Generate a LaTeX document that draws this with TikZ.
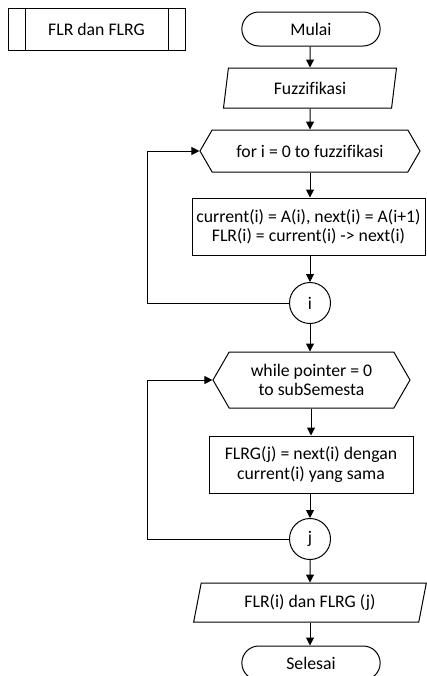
\documentclass[tikz,border=0pt]{standalone}
\usepackage{fontspec}
\setmainfont{Carlito}[Ligatures=CommonOff]
\usetikzlibrary{arrows.meta, shapes.geometric, shapes.misc, shapes.symbols}

\tikzset{
  base/.style={draw, line width=0.75pt, align=center, inner sep=1pt,
    font=\fontsize{13.3}{14.4}\selectfont},
  terminal/.style={base, rounded rectangle, minimum width=105.75pt},
  iobox/.style={base, trapezium, trapezium stretches body,
    trapezium left angle=#1, trapezium right angle=180-#1},
  loopbox/.style={base, signal, signal to=west and east,
    signal pointer angle=120},
  procbox/.style={base, rectangle},
  connector/.style={base, circle, minimum size=30.75pt, inner sep=0pt},
  flow/.style={line width=0.75pt, -{Triangle[length=6pt, width=6pt]}},
  backline/.style={line width=0.75pt}
}

\begin{document}
\begin{tikzpicture}[x=0.75pt, y=-0.75pt]
  % Page frame, in pixels of the reference
  \useasboundingbox (0,0) rectangle (427,676);

  % Predefined process (title)
  \node[procbox, minimum width=132.75pt, minimum height=31.5pt]
    (title) at (96.5,29) {FLR dan FLRG};
  \draw[backline] ([xshift=13.5pt]title.north west) -- ([xshift=13.5pt]title.south west);
  \draw[backline] ([xshift=-12.75pt]title.north east) -- ([xshift=-12.75pt]title.south east);

  % Main column
  \node[terminal, minimum height=25.5pt] (start) at (311,29) {Mulai};
  \node[iobox=72, minimum width=129.75pt, minimum height=30pt]
    (fuzz) at (310,88) {Fuzzifikasi};
  \node[loopbox, minimum width=165pt, minimum height=31.5pt]
    (loopA) at (310,151) {for i = 0 to fuzzifikasi};
  \node[procbox, minimum width=174.75pt, minimum height=42.75pt]
    (procA) at (308.5,226.5) {current(i) = A(i), next(i) = A(i+1)\\FLR(i) = current(i) -> next(i)};
  \node[connector] (ci) at (310,303) {i};
  \node[loopbox, minimum width=147.75pt, minimum height=42pt]
    (loopB) at (311.5,380) {while pointer = 0\\to subSemesta};
  \node[procbox, minimum width=153pt, minimum height=42.75pt]
    (procB) at (311,464.5) {FLRG(j) = next(i) dengan\\current(i) yang sama};
  \node[connector] (cj) at (310,539) {j};
  \node[iobox=68, minimum width=174.5pt, minimum height=29.25pt]
    (output) at (310,602.5) {FLR(i) dan FLRG (j)};
  \node[terminal, minimum height=25.5pt] (stop) at (311,663) {Selesai};

  % Loop return points
  \coordinate (backA) at (147,303);
  \coordinate (backB) at (147,539);

  % Flow arrows
  \draw[flow] (start.south -| fuzz.north) -- (fuzz);
  \draw[flow] (fuzz) -- (loopA);
  \draw[flow] (loopA.south) -- (loopA.south |- procA.north);
  \draw[flow] (procA.south -| ci.north) -- (ci);
  \draw[flow] (ci) -- (loopB.north -| ci.south);
  \draw[flow] (loopB.south -| procB.north) -- (procB.north);
  \draw[flow] (procB.south -| cj.north) -- (cj);
  \draw[flow] (cj) -- (output);
  \draw[flow] (output.south) -- (output.south |- stop.north);

  % Loop back lines
  \draw[backline] (ci.west) -- (backA);
  \draw[flow] (backA) |- (loopA.west);
  \draw[backline] (cj.west) -- (backB);
  \draw[flow] (backB) |- (loopB.west);
\end{tikzpicture}
\end{document}
